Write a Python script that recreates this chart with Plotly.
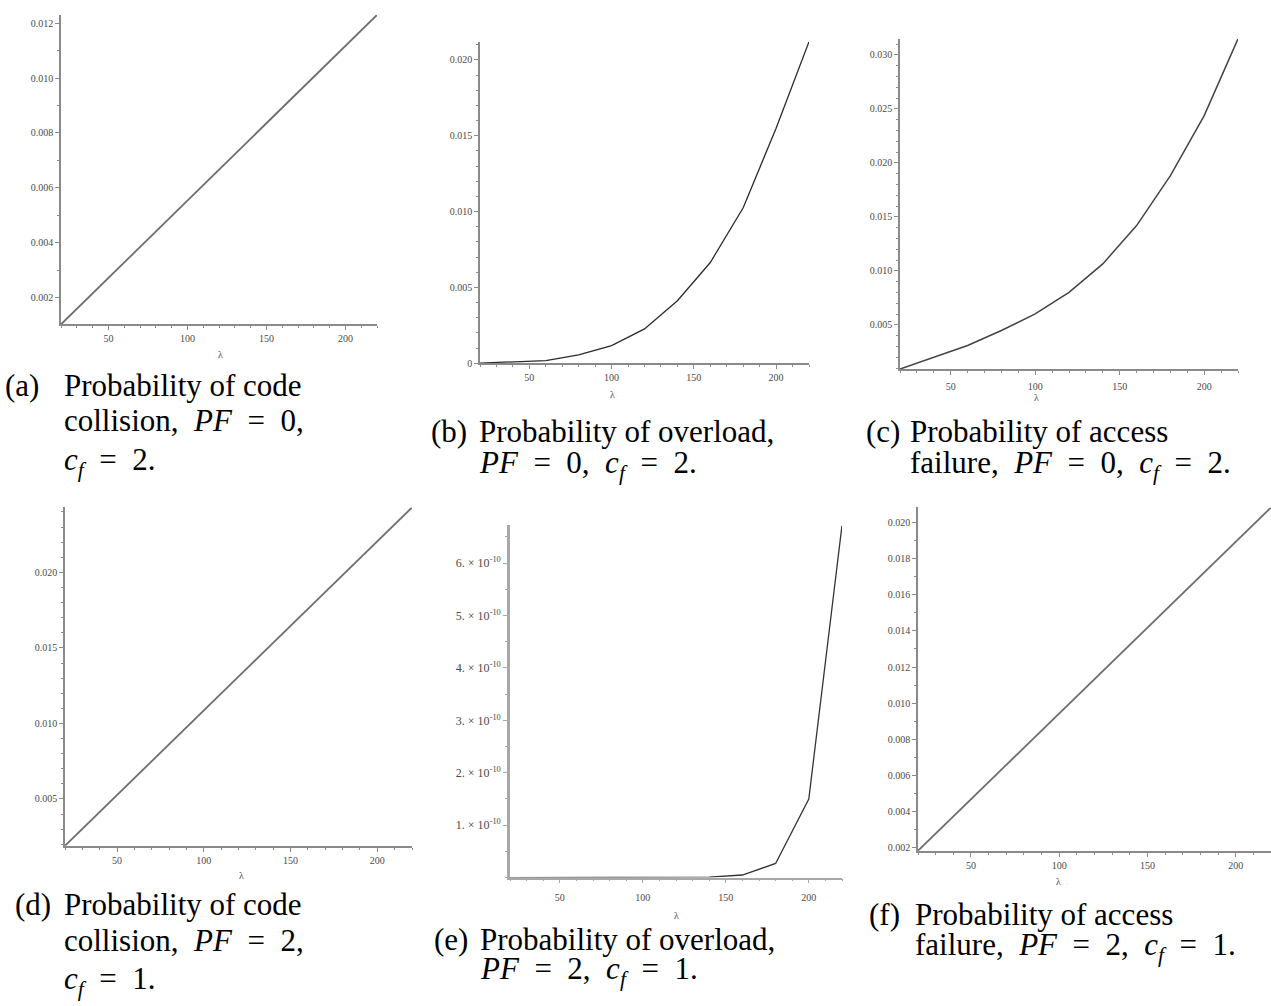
import plotly.graph_objects as go

W, H = 1271, 1006

# arrival rate values
lam = [20, 40, 60, 80, 100, 120, 140, 160, 180, 200, 220]

# PF = 0, c_f = 2
p_collision_pf0 = [0.00103, 0.00216, 0.00328, 0.00441, 0.00554, 0.00666,
                   0.00779, 0.00892, 0.01005, 0.01117, 0.0123]
p_overload_pf0 = [0.0, 0.00007, 0.000175, 0.00055, 0.00116, 0.00226,
                  0.00412, 0.00664, 0.01025, 0.0155, 0.0212]
p_access_pf0 = [0.0009, 0.0020, 0.00309, 0.00448, 0.00602, 0.00802,
                0.01065, 0.0142, 0.01883, 0.02438, 0.0315]

# PF = 2, c_f = 1
p_collision_pf2 = [0.0019, 0.00414, 0.00638, 0.00862, 0.01086, 0.0131,
                   0.01534, 0.01758, 0.01982, 0.02206, 0.0243]
p_overload_pf2 = [0.0, 0.0, 0.0, 0.0, 1e-14, 1e-13,
                  1e-12, 5e-12, 2.7e-11, 1.5e-10, 6.72e-10]
p_access_pf2 = [0.00183, 0.00373, 0.00563, 0.00753, 0.00943, 0.01133,
                0.01323, 0.01513, 0.01703, 0.01893, 0.02083]

x_ticks = [50, 100, 150, 200]
x_tick_text = ["50", "100", "150", "200"]

yt_a = [0.002, 0.004, 0.006, 0.008, 0.010, 0.012]
yt_a_text = ["0.002", "0.004", "0.006", "0.008", "0.010", "0.012"]
yt_b = [0, 0.005, 0.010, 0.015, 0.020]
yt_b_text = ["0", "0.005", "0.010", "0.015", "0.020"]
yt_c = [0.005, 0.010, 0.015, 0.020, 0.025, 0.030]
yt_c_text = ["0.005", "0.010", "0.015", "0.020", "0.025", "0.030"]
yt_d = [0.005, 0.010, 0.015, 0.020]
yt_d_text = ["0.005", "0.010", "0.015", "0.020"]
yt_e = [1e-10, 2e-10, 3e-10, 4e-10, 5e-10, 6e-10]
yt_e_text = [f"{k}. \u00d7 10<sup>-10</sup>" for k in ["1", "2", "3", "4", "5", "6"]]
yt_f = [0.002, 0.004, 0.006, 0.008, 0.010, 0.012, 0.014, 0.016, 0.018, 0.020]
yt_f_text = ["0.002", "0.004", "0.006", "0.008", "0.010", "0.012",
             "0.014", "0.016", "0.018", "0.020"]

EN = "\u2002"
GAP = "\u00a0\u00a0"


def cap_pf(v):
    return f"<i>PF</i>{EN}={EN}{v}"


def cap_cf(v):
    return f"<i>c<sub>f</sub></i>{EN}={EN}{v}"


# panel layout: (left, right, top, bottom) in pixels
panels = [
    dict(y=p_collision_pf0, box=(61, 377, 15, 326), yt=yt_a, ytt=yt_a_text,
         ymin=0.001, yr=(0.00103, 0.0123), lc="#6e6e6e", lw=1.8, ax="#8a8a8a",
         lam_pos=(220, 356), xso=0),
    dict(y=p_overload_pf0, box=(480, 809, 42, 365), yt=yt_b, ytt=yt_b_text,
         ymin=0.001, yr=(0.0, 0.0212), lc="#2b2b2b", lw=1.3, ax="#8a8a8a",
         lam_pos=(612, 396), xso=0),
    dict(y=p_access_pf0, box=(900, 1238, 39, 371), yt=yt_c, ytt=yt_c_text,
         ymin=0.001, yr=(0.0009, 0.0315), lc="#444444", lw=1.5, ax="#8a8a8a",
         lam_pos=(1036, 399), xso=3),
    dict(y=p_collision_pf2, box=(65, 412, 510, 850), yt=yt_d, ytt=yt_d_text,
         ymin=0.001, yr=(0.0019, 0.0243), lc="#6e6e6e", lw=1.8, ax="#8a8a8a",
         lam_pos=(241, 880), xso=0),
    dict(y=p_overload_pf2, box=(510, 842, 528, 882), yt=yt_e, ytt=yt_e_text,
         ymin=0.5e-10, yr=(0.0, 6.72e-10), lc="#333333", lw=1.3, ax="#a8a8a8",
         lam_pos=(677, 920), xso=6),
    dict(y=p_access_pf2, box=(918, 1271, 510, 855), yt=yt_f, ytt=yt_f_text,
         ymin=0.001, yr=(0.00183, 0.02083), lc="#6e6e6e", lw=1.8, ax="#8a8a8a",
         lam_pos=(1058, 886), xso=-2),
]

fig = go.Figure()
tick_font = dict(family="Liberation Serif", size=10, color="#4a4a4a")
layout = {}
annotations = []

for i, p in enumerate(panels, start=1):
    xa = "x" if i == 1 else f"x{i}"
    ya = "y" if i == 1 else f"y{i}"
    fig.add_trace(go.Scatter(x=lam, y=p["y"], mode="lines",
                             line=dict(color=p["lc"], width=p["lw"]),
                             xaxis=xa, yaxis=ya, showlegend=False,
                             cliponaxis=False))
    l, r, t, b = p["box"]
    xkey = "xaxis" if i == 1 else f"xaxis{i}"
    ykey = "yaxis" if i == 1 else f"yaxis{i}"
    layout[xkey] = dict(
        domain=[l / W, r / W], anchor=ya, range=[20, 220],
        showgrid=False, zeroline=False, showline=True,
        linecolor=p["ax"], linewidth=1.6,
        tickmode="array", tickvals=x_ticks, ticktext=x_tick_text,
        ticks="outside", ticklen=4, tickwidth=1, tickcolor=p["ax"],
        ticklabelstandoff=max(p["xso"], 0),
        minor=dict(tickmode="linear", tick0=0, dtick=10, ticks="outside",
                   ticklen=2, tickwidth=1, tickcolor=p["ax"]),
        tickfont=tick_font, fixedrange=True,
    )
    layout[ykey] = dict(
        domain=[1 - b / H, 1 - t / H], anchor=xa, range=list(p["yr"]),
        showgrid=False, zeroline=False, showline=True,
        linecolor=p["ax"], linewidth=2.6 if i == 5 else 1.6,
        tickmode="array", tickvals=p["yt"], ticktext=p["ytt"],
        ticks="outside", ticklen=4, tickwidth=1, tickcolor=p["ax"],
        minor=dict(tickmode="linear", tick0=0, dtick=p["ymin"], ticks="outside",
                   ticklen=2, tickwidth=1, tickcolor=p["ax"]),
        tickfont=dict(tick_font, size=12) if i == 5 else tick_font,
        fixedrange=True,
    )
    lx, ly = p["lam_pos"]
    annotations.append(dict(text="\u03bb", x=lx / W, y=1 - ly / H,
                            xref="paper", yref="paper", showarrow=False,
                            xanchor="center", yanchor="middle",
                            font=dict(family="Liberation Serif", size=10,
                                      color="#4a4a4a")))

CAP = 31
cap_font = dict(family="Liberation Serif", size=CAP, color="#000000")

# captions: label, label x, text x, list of (line centre y, text)
captions = [
    ("(a)", 3, 62, [(385, "Probability of code"),
                    (421, "collision," + GAP + cap_pf(0) + ","),
                    (458, cap_cf(2) + ".")]),
    ("(b)", 429, 477, [(432, "Probability of overload,"),
                       (461, cap_pf(0) + "," + GAP + cap_cf(2) + ".")]),
    ("(c)", 864, 908, [(432, "Probability of access"),
                       (461, "failure," + GAP + cap_pf(0) + "," + GAP + cap_cf(2) + ".")]),
    ("(d)", 13, 62, [(907, "Probability of code"),
                     (943, "collision," + GAP + cap_pf(2) + ","),
                     (980, cap_cf(1) + ".")]),
    ("(e)", 432, 478, [(942, "Probability of overload,"),
                       (970, cap_pf(2) + "," + GAP + cap_cf(1) + ".")]),
    ("(f)", 867, 913, [(917, "Probability of access"),
                       (946, "failure," + GAP + cap_pf(2) + "," + GAP + cap_cf(1) + ".")]),
]


def mid_y(c, txt):
    # subscripts enlarge the text box downwards, shifting its middle
    off = 6 if "<sub>" in txt else 2
    return 1 - (c + off) / H


for label, lx, tx, lines in captions:
    annotations.append(dict(text=label, x=lx / W, y=mid_y(lines[0][0], label),
                            xref="paper", yref="paper", showarrow=False,
                            xanchor="left", yanchor="middle", font=cap_font))
    for c, txt in lines:
        annotations.append(dict(text=txt, x=tx / W, y=mid_y(c, txt),
                                xref="paper", yref="paper", showarrow=False,
                                xanchor="left", yanchor="middle", font=cap_font))

fig.update_layout(
    width=W, height=H,
    margin=dict(l=0, r=0, t=0, b=0),
    paper_bgcolor="white", plot_bgcolor="white",
    annotations=annotations,
    **layout,
)

fig.write_html("out.html")
